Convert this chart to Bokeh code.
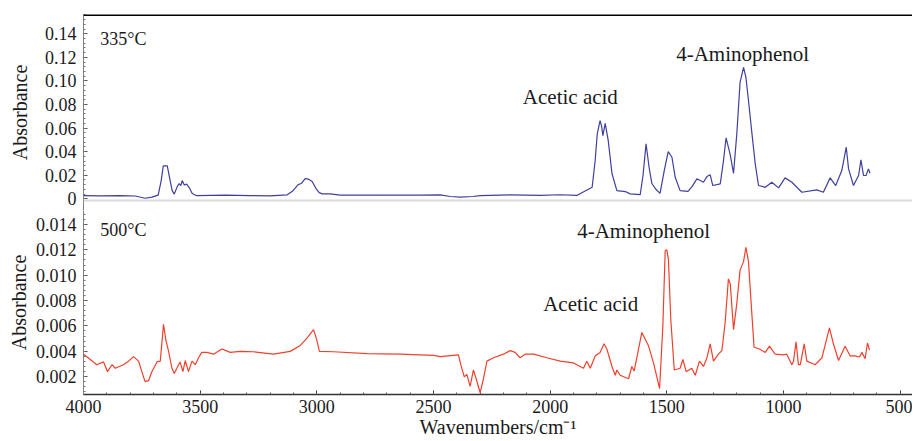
from bokeh.plotting import figure
from bokeh.layouts import column
from bokeh.models import Range1d, FixedTicker, Label, Span
from bokeh.embed import file_html
from bokeh.resources import INLINE

# ---------------- data ----------------
wn_335 = [4000, 3928, 3843, 3778, 3736, 3706, 3680, 3667, 3658, 3641, 3633, 3620, 3611, 3598,
          3590, 3583, 3577, 3568, 3558, 3547, 3534, 3517, 3457, 3393, 3286, 3200, 3127, 3106,
          3080, 3067, 3050, 3037, 3020, 3003, 2990, 2977, 2943, 2900, 2728, 2557, 2471, 2428,
          2386, 2330, 2300, 2171, 2043, 1957, 1884, 1820, 1807, 1798, 1786, 1779, 1774, 1764,
          1751, 1735, 1714, 1678, 1657, 1614, 1602, 1589, 1576, 1564, 1546, 1529, 1511, 1494,
          1478, 1464, 1443, 1409, 1392, 1371, 1357, 1343, 1328, 1314, 1303, 1271, 1257, 1246,
          1229, 1214, 1200, 1186, 1171, 1161, 1150, 1135, 1121, 1107, 1078, 1050, 1021, 993,
          964, 921, 857, 829, 800, 776, 750, 731, 721, 700, 678, 668, 657, 646, 636, 629]
abs_335 = [0.0028, 0.0025, 0.0028, 0.0024, 0.0005, 0.0015, 0.0032, 0.0155, 0.028, 0.028, 0.020,
           0.007, 0.004, 0.0104, 0.013, 0.0113, 0.0155, 0.0117, 0.0125, 0.0096, 0.0045, 0.0028,
           0.0030, 0.0032, 0.0028, 0.0025, 0.0034, 0.0062, 0.0121, 0.0130, 0.0172, 0.0168, 0.0147,
           0.0087, 0.0053, 0.0042, 0.0043, 0.0032, 0.0031, 0.0032, 0.0033, 0.0020, 0.0015, 0.0020,
           0.0028, 0.0034, 0.0030, 0.0035, 0.0030, 0.0098, 0.0325, 0.0554, 0.0664, 0.0613, 0.0537,
           0.0641, 0.0494, 0.0215, 0.0070, 0.0062, 0.0042, 0.0036, 0.0198, 0.0466, 0.0268, 0.0130,
           0.0079, 0.0047, 0.0240, 0.0401, 0.0353, 0.0183, 0.0070, 0.0064, 0.0104, 0.0170, 0.0155,
           0.0141, 0.0189, 0.0204, 0.0113, 0.0127, 0.0325, 0.0517, 0.0382, 0.0217, 0.0551, 0.0989,
           0.1116, 0.1031, 0.0834, 0.0551, 0.0297, 0.0113, 0.0098, 0.0141, 0.0093, 0.0178, 0.0141,
           0.0056, 0.0076, 0.0056, 0.0178, 0.0113, 0.0240, 0.0438, 0.0254, 0.0113, 0.0198, 0.0331,
           0.0198, 0.0198, 0.0254, 0.0217]

wn_500 = [4000, 3971, 3943, 3914, 3897, 3878, 3864, 3829, 3807, 3786, 3764, 3750, 3736, 3721,
          3707, 3685, 3671, 3657, 3647, 3636, 3621, 3611, 3600, 3586, 3574, 3564, 3550, 3535,
          3521, 3507, 3493, 3471, 3443, 3407, 3371, 3328, 3271, 3186, 3114, 3071, 3043, 3014,
          3000, 2989, 2929, 2785, 2643, 2500, 2471, 2393, 2383, 2368, 2357, 2343, 2329, 2317,
          2300, 2286, 2271, 2243, 2200, 2171, 2150, 2129, 2107, 2071, 2014, 1957, 1900, 1857,
          1843, 1828, 1807, 1786, 1769, 1757, 1735, 1721, 1714, 1700, 1664, 1650, 1640, 1607,
          1579, 1557, 1531, 1517, 1507, 1500, 1493, 1483, 1468, 1443, 1431, 1417, 1393, 1378,
          1360, 1343, 1328, 1314, 1300, 1279, 1264, 1250, 1236, 1228, 1214, 1200, 1186, 1171,
          1161, 1150, 1140, 1126, 1103, 1078, 1060, 1036, 1000, 986, 964, 957, 946, 936, 928,
          911, 900, 864, 835, 803, 786, 764, 736, 714, 693, 674, 664, 650, 640, 631]
abs_500 = [0.00377, 0.00335, 0.00294, 0.00316, 0.00239, 0.00294, 0.00266, 0.00294, 0.00322,
           0.00358, 0.00322, 0.00239, 0.00161, 0.00169, 0.00239, 0.00316, 0.00322, 0.00612,
           0.00488, 0.00405, 0.00266, 0.00225, 0.00266, 0.00316, 0.00239, 0.00327, 0.00239,
           0.00322, 0.00294, 0.00349, 0.00391, 0.00391, 0.00377, 0.00418, 0.00391, 0.00399,
           0.00396, 0.00377, 0.00399, 0.00446, 0.00501, 0.00571, 0.00488, 0.00399, 0.00396,
           0.00382, 0.00377, 0.00368, 0.00358, 0.00372, 0.00294, 0.00198, 0.00217, 0.00123,
           0.00252, 0.00183, 0.00073, 0.00183, 0.00322, 0.00349, 0.00377, 0.00405, 0.00391,
           0.00349, 0.00377, 0.00377, 0.00349, 0.00322, 0.00308, 0.00266, 0.00322, 0.00266,
           0.00363, 0.00391, 0.00459, 0.00418, 0.00280, 0.00211, 0.00252, 0.00211, 0.00183,
           0.00280, 0.00244, 0.00548, 0.00446, 0.00308, 0.00106, 0.00598, 0.01192, 0.01201,
           0.01123, 0.00653, 0.00252, 0.00266, 0.00335, 0.00239, 0.00266, 0.00211, 0.00322,
           0.00280, 0.00349, 0.00459, 0.00322, 0.00377, 0.00405, 0.00625, 0.00971, 0.00930,
           0.00571, 0.00778, 0.01040, 0.01109, 0.01220, 0.01109, 0.00819, 0.00432, 0.00418,
           0.00391, 0.00440, 0.00377, 0.00372, 0.00377, 0.00294, 0.00322, 0.00474, 0.00294,
           0.00294, 0.00459, 0.00322, 0.00294, 0.00349, 0.00584, 0.00459, 0.00327, 0.00440,
           0.00363, 0.00363, 0.00355, 0.00391, 0.00341, 0.00465, 0.00410]

x_ticks = [4000, 3500, 3000, 2500, 2000, 1500, 1000, 500]
x_tick_labels = ["4000", "3500", "3000", "2500", "2000", "1500", "1000", "500"]
y_ticks_top = [0, 0.02, 0.04, 0.06, 0.08, 0.10, 0.12, 0.14]
y_labels_top = ["0", "0.02", "0.04", "0.06", "0.08", "0.10", "0.12", "0.14"]
y_ticks_bot = [0.002, 0.004, 0.006, 0.008, 0.010, 0.012, 0.014]
y_labels_bot = ["0.002", "0.004", "0.006", "0.008", "0.010", "0.012", "0.014"]

FONT = "'Liberation Serif', 'Times New Roman', serif"
BLUE = "#3f3f9f"
RED = "#f0402c"
AXIS_GRAY = "#808080"
TXT = "#1a1a1a"

W = 912
x_range = Range1d(start=4000, end=447)


def style_yaxis(p, ticks, labels, minor, standoff):
    ax = p.yaxis[0]
    ax.ticker = FixedTicker(ticks=ticks, minor_ticks=minor)
    ax.major_label_overrides = {t: l for t, l in zip(ticks, labels)}
    ax.major_label_text_font = FONT
    ax.major_label_text_font_size = "18px"
    ax.major_label_text_color = TXT
    ax.major_label_standoff = 7
    ax.axis_label = "Absorbance"
    ax.axis_label_text_font = FONT
    ax.axis_label_text_font_size = "20px"
    ax.axis_label_text_font_style = "normal"
    ax.axis_label_text_color = TXT
    ax.axis_label_standoff = standoff
    ax.axis_line_color = AXIS_GRAY
    ax.major_tick_in = 4
    ax.major_tick_out = 0
    ax.minor_tick_in = 2
    ax.minor_tick_out = 0
    ax.major_tick_line_color = "#555555"
    ax.minor_tick_line_color = "#777777"


# ---------------- top panel (335 °C) ----------------
p1 = figure(width=W, height=210, x_range=x_range, y_range=Range1d(-0.00988, 0.1564),
            output_backend="svg", toolbar_location=None, x_axis_location=None,
            min_border_left=83, min_border_right=0, min_border_top=14, min_border_bottom=0)
p1.outline_line_color = None
p1.grid.visible = False
minor_top = [round(i * 0.004, 3) for i in range(0, 40) if round(i * 0.004, 3) <= 0.156]
style_yaxis(p1, y_ticks_top, y_labels_top, minor_top, 11)
p1.add_layout(Span(location=-0.0014, dimension="width", line_color="#dadada", line_width=2))
p1.line(wn_335, abs_335, line_color=BLUE, line_width=1.2)
p1.add_layout(Span(location=0.1564, dimension="width", line_color="black", line_width=3))

lab_kw = dict(text_font=FONT, text_color=TXT, text_baseline="alphabetic")
p1.add_layout(Label(x=3928, y=0.136, text="335°C", text_font_size="18px", **lab_kw))
p1.add_layout(Label(x=2117, y=0.0862, text="Acetic acid", text_font_size="21px", **lab_kw))
p1.add_layout(Label(x=1460, y=0.123, text="4-Aminophenol", text_font_size="21px", **lab_kw))

# ---------------- bottom panel (500 °C) ----------------
p2 = figure(width=W, height=230, x_range=x_range, y_range=Range1d(0.00059, 0.01510),
            output_backend="svg", toolbar_location=None,
            min_border_left=83, min_border_right=0, min_border_top=0, min_border_bottom=45)
p2.outline_line_color = None
p2.grid.visible = False
minor_bot = [round(0.0004 * i, 4) for i in range(1, 40) if 0.0004 * i <= 0.0151]
style_yaxis(p2, y_ticks_bot, y_labels_bot, minor_bot, 3)
p2.line(wn_500, abs_500, line_color=RED, line_width=1.2)

xa = p2.xaxis[0]
xa.ticker = FixedTicker(ticks=x_ticks, minor_ticks=list(range(4000, 400, -100)))
xa.major_label_overrides = {t: l for t, l in zip(x_ticks, x_tick_labels)}
xa.major_label_text_font = FONT
xa.major_label_text_font_size = "18px"
xa.major_label_text_color = TXT
xa.major_label_standoff = 5
xa.axis_label = "Wavenumbers/cm⁻¹"
xa.axis_label_text_font = FONT
xa.axis_label_text_font_size = "20px"
xa.axis_label_text_font_style = "normal"
xa.axis_label_text_color = TXT
xa.axis_label_standoff = 0
xa.axis_line_color = "#333333"
xa.axis_line_width = 1.5
xa.major_tick_in = 4
xa.major_tick_out = 0
xa.minor_tick_in = 2
xa.minor_tick_out = 0
xa.major_tick_line_color = "#333333"
xa.minor_tick_line_color = "#555555"

p2.add_layout(Label(x=3928, y=0.0136, text="500°C", text_font_size="18px", **lab_kw))
p2.add_layout(Label(x=1884, y=0.01352, text="4-Aminophenol", text_font_size="21px", **lab_kw))
p2.add_layout(Label(x=2030, y=0.00772, text="Acetic acid", text_font_size="21px", **lab_kw))

layout = column(p1, p2, spacing=0)
open("out.html", "w").write(file_html(layout, INLINE))
